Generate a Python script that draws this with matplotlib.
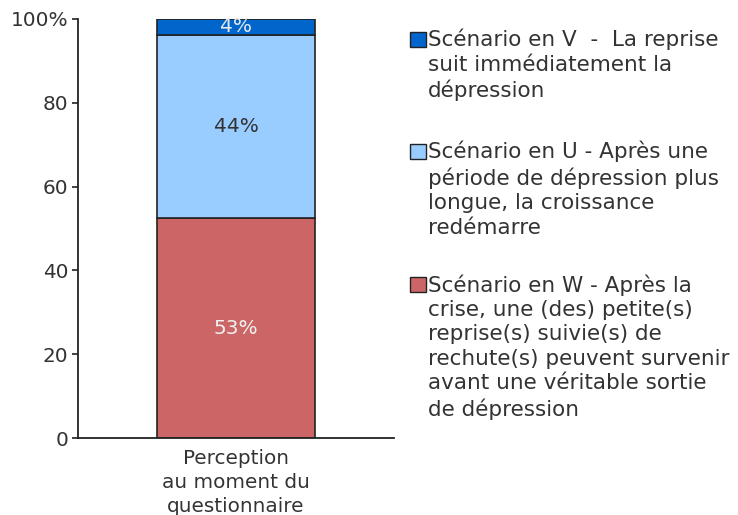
import matplotlib
matplotlib.use("Agg")
import matplotlib.pyplot as plt
from matplotlib.patches import Rectangle

# data (share of answers, stacked bottom -> top)
category = "Perception\nau moment du\nquestionnaire"
scenarios = ["W", "U", "V"]
values = [52.5, 43.7, 3.8]
value_labels = ["53%", "44%", "4%"]
colors = ["#cc6666", "#99ccff", "#0066cc"]
label_colors = ["#f0f0f0", "#333333", "#e8e8e8"]
legend_texts = [
    "Scénario en V  -  La reprise\nsuit immédiatement la\ndépression",
    "Scénario en U - Après une\npériode de dépression plus\nlongue, la croissance\nredémarre",
    "Scénario en W - Après la\ncrise, une (des) petite(s)\nreprise(s) suivie(s) de\nrechute(s) peuvent survenir\navant une véritable sortie\nde dépression",
]
legend_colors = ["#0066cc", "#99ccff", "#cc6666"]

txt = "#333333"
fig = plt.figure(figsize=(7.38, 5.15), dpi=100)
ax = fig.add_axes([78 / 738, 1 - 438 / 515, (394 - 78) / 738, (438 - 19) / 515])

bottom = 0
for v, c, lab, lc in zip(values, colors, value_labels, label_colors):
    ax.bar(0, v, width=1, bottom=bottom, color=c, edgecolor="#222222", linewidth=1.2)
    ax.text(0, bottom + v / 2, lab, ha="center", va="center", color=lc, fontsize=14.5)
    bottom += v

ax.set_xlim(-1, 1)
ax.set_ylim(0, 100)
ax.set_yticks([0, 20, 40, 60, 80, 100])
ax.set_yticklabels(["0", "20", "40", "60", "80", "100%"])
ax.set_xticks([0])
ax.set_xticklabels([category], linespacing=1.32)
ax.tick_params(axis="x", length=0, pad=8, labelsize=14.4, labelcolor=txt)
ax.tick_params(axis="y", length=4.3, width=1.2, pad=2.5, labelsize=14.4, labelcolor=txt, color="#222222")
for s in ["top", "right"]:
    ax.spines[s].set_visible(False)
for s in ["left", "bottom"]:
    ax.spines[s].set_linewidth(1.3)
    ax.spines[s].set_color("#222222")

# legend drawn by hand so the boxes sit at the first line of each entry
tops = [29, 141, 274]
for t, lt, lc in zip(tops, legend_texts, legend_colors):
    fig.patches.append(Rectangle((410 / 738, 1 - (t + 18) / 515), 16 / 738, 15 / 515,
                                 transform=fig.transFigure, facecolor=lc,
                                 edgecolor="#222222", linewidth=1))
    fig.text(428 / 738, 1 - t / 515, lt, ha="left", va="top", fontsize=15.5,
             color=txt, linespacing=1.28)

fig.savefig("out.png")
